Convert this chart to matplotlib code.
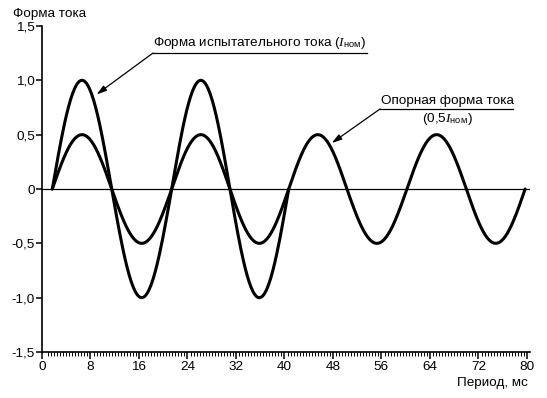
import numpy as np
import matplotlib
matplotlib.use("Agg")
import matplotlib.pyplot as plt

plt.rcParams['font.family'] = ['Liberation Sans', 'DejaVu Sans']
plt.rcParams['mathtext.fontset'] = 'custom'
plt.rcParams['mathtext.rm'] = 'Liberation Sans'
plt.rcParams['mathtext.it'] = 'Liberation Serif:italic'

# ---- data ----
# zero crossings (ms) of the curves
zero_times = [1.7, 11.5, 21.4, 31.0, 40.7, 50.3, 60.2, 70.0, 79.7]
# peak value of each half-wave between consecutive zero crossings
test_peaks = [1.0, -1.0, 1.0, -1.0]                          # test current (I_nom)
ref_peaks = [0.5, -0.5, 0.5, -0.5, 0.5, -0.5, 0.5, -0.5]     # reference (0.5 I_nom)

x_ticks = [0, 8, 16, 24, 32, 40, 48, 56, 64, 72, 80]
y_ticks = [-1.5, -1.0, -0.5, 0, 0.5, 1.0, 1.5]
y_tick_labels = ['-1,5', '-1,0', '-0,5', '0', '0,5', '1,0', '1,5']

y_label = 'Форма тока'
x_label = 'Период, мс'
label_test = 'Форма испытательного тока ($I_{\\mathrm{ном}}$)'
label_ref1 = 'Опорная форма тока'
label_ref2 = '(0,5$I_{\\mathrm{ном}}$)'


def half_waves(zeros, peaks):
    xs, ys = [], []
    for i, pk in enumerate(peaks):
        t = np.linspace(zeros[i], zeros[i + 1], 60)
        xs.append(t)
        ys.append(pk * np.sin(np.pi * (t - zeros[i]) / (zeros[i + 1] - zeros[i])))
    return np.concatenate(xs), np.concatenate(ys)


FS = 9.7
W, H = 547, 398
fig = plt.figure(figsize=(W / 100, H / 100), dpi=100)
ax = fig.add_axes([42 / W, (H - 352) / H, (530 - 42) / W, (352 - 26) / H])
ax.set_xlim(0, 80.5)
ax.set_ylim(-1.5, 1.5)

tx, ty = half_waves(zero_times, test_peaks)
rx, ry = half_waves(zero_times, ref_peaks)
ax.plot(tx, ty, color='black', lw=2.2, solid_capstyle='round')
ax.plot(rx, ry, color='black', lw=2.2, solid_capstyle='round')
ax.axhline(0, color='black', lw=0.9)

for s in ['top', 'right']:
    ax.spines[s].set_visible(False)
for s in ['left', 'bottom']:
    ax.spines[s].set_linewidth(1.2)

ax.set_xticks(x_ticks)
ax.set_xticklabels([str(v) for v in x_ticks])
ax.set_xticks(np.arange(1, 80.01, 0.5), minor=True)
ax.set_yticks(y_ticks)
ax.set_yticklabels(y_tick_labels)
ax.tick_params(axis='x', which='major', direction='out', length=5, width=1.1, labelsize=FS, pad=1.5)
ax.tick_params(axis='x', which='minor', direction='out', length=3.2, width=0.7)
ax.tick_params(axis='y', which='major', direction='out', length=4, width=1.1, labelsize=FS, pad=1)

fig.text(13 / W, 1 - 14 / H, y_label, ha='left', va='center', fontsize=FS)
fig.text(528 / W, 1 - 383 / H, x_label, ha='right', va='center', fontsize=FS)

arrow = dict(arrowstyle='-|>,head_length=0.6,head_width=0.18', color='black', lw=0.9,
             shrinkA=0, shrinkB=0)

# annotation 1 (test current)
ax.plot([18.3, 53.6], [1.251, 1.251], color='black', lw=0.9, clip_on=False)
ax.annotate('', xy=(9.0, 0.87), xytext=(18.3, 1.251), arrowprops=arrow, annotation_clip=False)
ax.text(35.9, 1.345, label_test, ha='center', va='center', fontsize=FS)

# annotation 2 (reference)
ax.plot([55.75, 77.7], [0.736, 0.736], color='black', lw=0.9, clip_on=False)
ax.annotate('', xy=(47.8, 0.423), xytext=(55.75, 0.736), arrowprops=arrow, annotation_clip=False)
ax.text(66.8, 0.81, label_ref1, ha='center', va='center', fontsize=FS)
ax.text(66.9, 0.64, label_ref2, ha='center', va='center', fontsize=FS)

fig.savefig('out.png', dpi=100)
